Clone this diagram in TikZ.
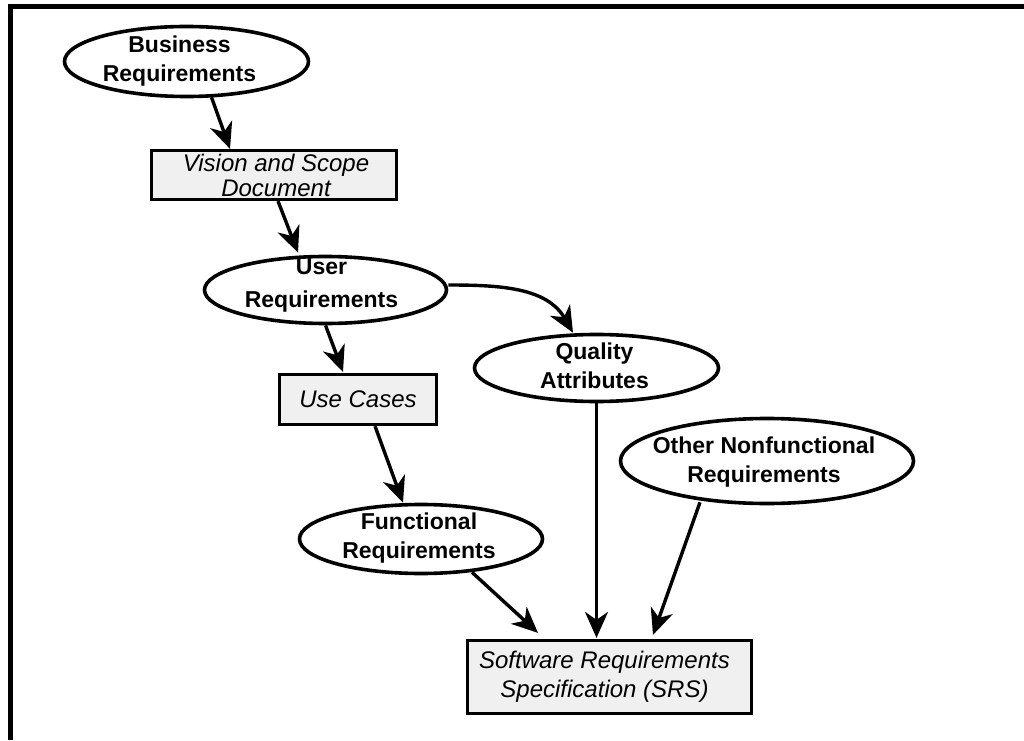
\documentclass[tikz,border=0pt]{standalone}
\usepackage{fontspec}
\setmainfont{Liberation Sans}
\usetikzlibrary{arrows.meta,shapes.geometric,calc}
\definecolor{boxfill}{RGB}{240,240,240}
\begin{document}
\begin{tikzpicture}[x=1pt,y=1pt,
  oval/.style={draw, ellipse, line width=3.6pt, inner sep=0pt, fill=white},
  doc/.style={draw, rectangle, line width=3.2pt, fill=boxfill, inner sep=0pt},
  btext/.style={font=\fontsize{23}{29}\selectfont\bfseries, align=center, inner sep=0pt},
  itext/.style={font=\fontsize{24}{25}\selectfont\itshape, align=center, inner sep=0pt},
  conn/.style={line width=3.4pt, -{Stealth[length=26pt,width=23pt,inset=8pt]}}
]
\useasboundingbox (0,0) rectangle (1024,740);
\draw[line width=5pt] (10,0) -- (10,733) -- (1024,733);

% shapes
\node[oval, minimum width=244, minimum height=70] (br) at (186.5,678.5) {};
\node[doc, minimum width=245, minimum height=49] (vs) at (274,565) {};
\node[oval, minimum width=242, minimum height=67] (ur) at (325.5,450) {};
\node[doc, minimum width=157, minimum height=50] (uc) at (358,340.5) {};
\node[oval, minimum width=244, minimum height=67] (qa) at (596.5,372) {};
\node[oval, minimum width=243, minimum height=69] (fr) at (421,201) {};
\node[oval, minimum width=293, minimum height=85] (on) at (767,279) {};
\node[doc, minimum width=284, minimum height=73] (srs) at (609.5,63) {};

% texts
\node[btext] (brt) at ($(br)+(-7,0)$) {Business\\Requirements};
\node[itext] (vst) at ($(vs)+(2,0)$) {Vision and Scope\\Document};
\node[btext, font=\fontsize{23}{33}\selectfont\bfseries] (urt) at ($(ur)+(-4,5)$) {User\\Requirements};
\node[itext] (uct) at (uc) {Use Cases};
\node[btext] (qat) at ($(qa)+(-2,2)$) {Quality\\Attributes};
\node[btext] (frt) at ($(fr)+(-2,1)$) {Functional\\Requirements};
\node[btext] (ont) at ($(on)+(-3,-1.5)$) {Other Nonfunctional\\Requirements};
\node[itext, font=\fontsize{24}{29}\selectfont\itshape] (srst) at ($(srs)+(-5,0)$) {Software Requirements\\Specification (SRS)};

% connectors
\draw[conn] ($(br.south)+(25,1)$) -- ($(vs.north)+(-44,0)$);
\draw[conn] ($(vs.south)+(4,0)$) -- ($(ur.north)+(-27.5,2)$);
\draw[conn] (ur.south) -- ($(uc.north)+(-15,1)$);
\draw[conn] ($(ur.east)+(0,5)$) to[out=0,in=120] ($(qa.north)+(-23.5,0)$);
\draw[conn] ($(uc.south)+(17,0)$) -- ($(fr.north)+(-18,0)$);
\draw[conn] ($(fr.south)+(51,3)$) -- ($(srs.north)+(-71.5,6)$);
\draw[conn] (qa.south) -- ($(srs.north)+(-13,1)$);
\draw[conn] ($(on.south)+(-67,3)$) -- ($(srs.north)+(43.5,4)$);
\end{tikzpicture}
\end{document}
